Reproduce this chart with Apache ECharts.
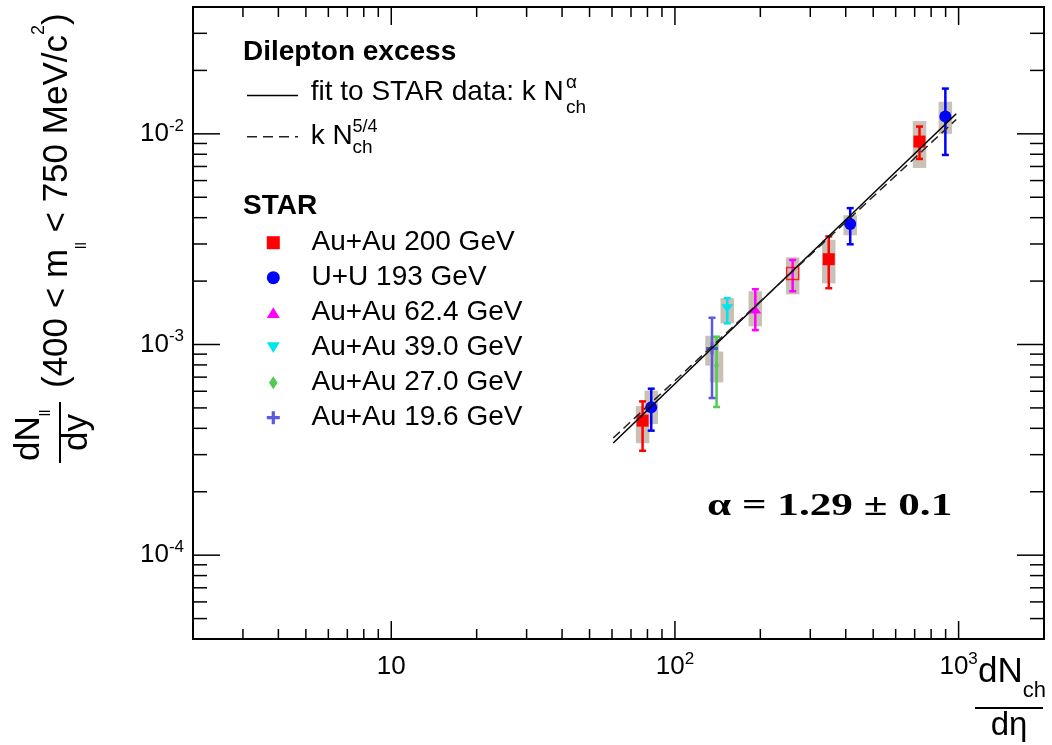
<!DOCTYPE html>
<html>
<head>
<meta charset="utf-8">
<script src="https://cdn.jsdelivr.net/npm/echarts@6/dist/echarts.min.js"></script>
<style>html,body{margin:0;padding:0;background:#fff}#c{width:1052px;height:745px}</style>
</head>
<body>
<div id="c"></div>
<script>
// ---------------- data ----------------
const xRange = [2, 2000];
const yRange = [4e-5, 0.04];
const xMajorTicks = [10, 100, 1000];
const xMinorTicks = [3, 4, 5, 6, 7, 8, 9, 20, 30, 40, 50, 60, 70, 80, 90, 200, 300, 400, 500, 600, 700, 800, 900];
const yMajorTicks = [1e-4, 1e-3, 1e-2];
const yMinorTicks = [5e-5, 6e-5, 7e-5, 8e-5, 9e-5, 2e-4, 3e-4, 4e-4, 5e-4, 6e-4, 7e-4, 8e-4, 9e-4,
  2e-3, 3e-3, 4e-3, 5e-3, 6e-3, 7e-3, 8e-3, 9e-3, 2e-2, 3e-2];
const xTickLabels = ['10', '10^2', '10^3'];
const yTickLabels = ['10^-4', '10^-3', '10^-2'];

const seriesNames = ['Au+Au 200 GeV', 'U+U 193 GeV', 'Au+Au 62.4 GeV', 'Au+Au 39.0 GeV', 'Au+Au 27.0 GeV', 'Au+Au 19.6 GeV'];

const auau200X = [76.9, 348.5, 728];
const auau200Y = [4.35e-4, 2.54e-3, 9.19e-3];
const auau200StatLo = [3.13e-4, 1.85e-3, 7.6e-3];
const auau200StatHi = [5.37e-4, 3.26e-3, 1.083e-2];
const auau200SysLo = [3.4e-4, 1.95e-3, 6.89e-3];
const auau200SysHi = [5.1e-4, 3.14e-3, 1.149e-2];

const uu193X = [82.5, 414.8, 898];
const uu193Y = [5.03e-4, 3.73e-3, 1.21e-2];
const uu193StatLo = [3.9e-4, 2.99e-3, 7.94e-3];
const uu193StatHi = [6.17e-4, 4.44e-3, 1.64e-2];
const uu193SysLo = [4.19e-4, 3.3e-3, 1.0e-2];
const uu193SysHi = [6.04e-4, 4.11e-3, 1.42e-2];

const auau62X = [192];
const auau62Y = [1.468e-3];
const auau62StatLo = [1.17e-3];
const auau62StatHi = [1.83e-3];
const auau62SysLo = [1.22e-3];
const auau62SysHi = [1.79e-3];

const openX = [260];
const openY = [2.17e-3];
const openStatLo = [1.79e-3];
const openStatHi = [2.52e-3];
const openSysLo = [1.73e-3];
const openSysHi = [2.59e-3];

const auau39X = [152.9];
const auau39Y = [1.485e-3];
const auau39StatLo = [1.26e-3];
const auau39StatHi = [1.66e-3];
const auau39SysLo = [1.26e-3];
const auau39SysHi = [1.66e-3];

const auau27X = [140.2];
const auau27Y = [7.94e-4];
const auau27StatLo = [5.05e-4];
const auau27StatHi = [1.088e-3];
const auau27SysLo = [6.61e-4];
const auau27SysHi = [9.26e-4];

const auau19X = [135.1];
const auau19Y = [9.57e-4];
const auau19StatLo = [5.57e-4];
const auau19StatHi = [1.34e-3];
const auau19SysLo = [7.94e-4];
const auau19SysHi = [1.10e-3];

const fitSolidX = [60.6, 981];
const fitSolidY = [3.41e-4, 1.245e-2];
const fitDashedX = [60.6, 981];
const fitDashedY = [3.6e-4, 1.17e-2];

// ---------------- styling / building ----------------
const FONT = "'Liberation Sans', Arial, Helvetica, sans-serif";
const SERIF = "'Liberation Serif', 'Times New Roman', serif";
const BOX = '#c9c0b6';

const systems = [
  {name: seriesNames[0], x: auau200X, y: auau200Y, lo: auau200StatLo, hi: auau200StatHi, sLo: auau200SysLo, sHi: auau200SysHi, color: '#ff0000', symbol: 'rect', size: 12},
  {name: seriesNames[1], x: uu193X, y: uu193Y, lo: uu193StatLo, hi: uu193StatHi, sLo: uu193SysLo, sHi: uu193SysHi, color: '#0000ff', symbol: 'circle', size: 12},
  {name: seriesNames[2], x: auau62X, y: auau62Y, lo: auau62StatLo, hi: auau62StatHi, sLo: auau62SysLo, sHi: auau62SysHi, color: '#ff00ff', symbol: 'path://M6,0L12,10L0,10Z', size: [12, 10]},
  {name: seriesNames[3], x: auau39X, y: auau39Y, lo: auau39StatLo, hi: auau39StatHi, sLo: auau39SysLo, sHi: auau39SysHi, color: '#00e5ee', symbol: 'path://M0,0L12,0L6,10Z', size: [12, 10]},
  {name: seriesNames[4], x: auau27X, y: auau27Y, lo: auau27StatLo, hi: auau27StatHi, sLo: auau27SysLo, sHi: auau27SysHi, color: '#55c855', symbol: 'path://M4,0L8,6L4,12L0,6Z', size: [7, 10]},
  {name: seriesNames[5], x: auau19X, y: auau19Y, lo: auau19StatLo, hi: auau19StatHi, sLo: auau19SysLo, sHi: auau19SysHi, color: '#5a5adc', symbol: 'path://M4.5,0H7.5V4.5H12V7.5H7.5V12H4.5V7.5H0V4.5H4.5Z', size: 12}
];
const openPoint = {x: openX, y: openY, lo: openStatLo, hi: openStatHi, sLo: openSysLo, sHi: openSysHi};

function boxRender(params, api) {
  const x = api.value(0);
  const top = api.coord([x, api.value(2)]);
  const bot = api.coord([x, api.value(1)]);
  const w = 13.5;
  return {type: 'rect', shape: {x: top[0] - w / 2, y: top[1], width: w, height: bot[1] - top[1]}, style: {fill: BOX}};
}
function errRender(color) {
  return function (params, api) {
    const x = api.value(0);
    const p1 = api.coord([x, api.value(3)]);
    const p2 = api.coord([x, api.value(2)]);
    const cw = 3.5;
    const st = {stroke: color, lineWidth: 2.5};
    return {type: 'group', children: [
      {type: 'line', shape: {x1: p1[0], y1: p1[1], x2: p2[0], y2: p2[1]}, style: st},
      {type: 'line', shape: {x1: p1[0] - cw, y1: p1[1], x2: p1[0] + cw, y2: p1[1]}, style: st},
      {type: 'line', shape: {x1: p2[0] - cw, y1: p2[1], x2: p2[0] + cw, y2: p2[1]}, style: st}
    ]};
  };
}
function xTickRender(params, api) {
  const cs = params.coordSys;
  const px = api.coord([api.value(0), yRange[0]])[0];
  const L = api.value(2) ? 18 : 10;
  const b = cs.y + cs.height, t = cs.y;
  const st = {stroke: '#000', lineWidth: 1.5};
  return {type: 'group', children: [
    {type: 'line', shape: {x1: px, y1: b, x2: px, y2: b - L}, style: st},
    {type: 'line', shape: {x1: px, y1: t, x2: px, y2: t + L}, style: st}
  ]};
}
function yTickRender(params, api) {
  const cs = params.coordSys;
  const py = api.coord([xRange[0], api.value(1)])[1];
  const L = api.value(2) ? 27 : 14;
  const l = cs.x, r = cs.x + cs.width;
  const st = {stroke: '#000', lineWidth: 1.5};
  return {type: 'group', children: [
    {type: 'line', shape: {x1: l, y1: py, x2: l + L, y2: py}, style: st},
    {type: 'line', shape: {x1: r, y1: py, x2: r - L, y2: py}, style: st}
  ]};
}
function makeFormatter(vals, labels) {
  return function (v) {
    for (let i = 0; i < vals.length; i++) {
      if (Math.abs(v / vals[i] - 1) < 1e-6) {
        const parts = labels[i].split('^');
        return parts.length > 1 ? '{b|' + parts[0] + '}{s|' + parts[1] + '}' : '{b|' + parts[0] + '}';
      }
    }
    return '';
  };
}
const labelRich = {
  b: {fontSize: 26, fontFamily: FONT, color: '#000', lineHeight: 30},
  s: {fontSize: 17, fontFamily: FONT, color: '#000', lineHeight: 30, padding: [0, 0, 16, 0]}
};

const series = [];
// systematic boxes
systems.concat([openPoint]).forEach(function (s, k) {
  series.push({type: 'custom', name: 'sys' + k, renderItem: boxRender, z: 2, silent: true,
    data: s.x.map(function (v, i) { return [v, s.sLo[i], s.sHi[i]]; })});
});
// statistical error bars
systems.forEach(function (s, k) {
  series.push({type: 'custom', name: 'stat' + k, renderItem: errRender(s.color), z: 3, silent: true,
    data: s.x.map(function (v, i) { return [v, s.y[i], s.lo[i], s.hi[i]]; })});
});
series.push({type: 'custom', name: 'statOpen', renderItem: errRender('#ff00ff'), z: 3, silent: true,
  data: openPoint.x.map(function (v, i) { return [v, openPoint.y[i], openPoint.lo[i], openPoint.hi[i]]; })});
// markers
systems.forEach(function (s) {
  series.push({type: 'scatter', name: s.name, symbol: s.symbol, symbolSize: s.size, symbolKeepAspect: true, z: 4, silent: true,
    itemStyle: {color: s.color, opacity: 1},
    data: s.x.map(function (v, i) { return [v, s.y[i]]; })});
});
series.push({type: 'scatter', name: 'open', symbol: 'rect', symbolSize: 12, z: 4, silent: true,
  itemStyle: {color: 'rgba(0,0,0,0)', borderColor: '#ff0000', borderWidth: 1.5},
  data: openPoint.x.map(function (v, i) { return [v, openPoint.y[i]]; })});
// fits
series.push({type: 'line', name: 'fit', z: 5, silent: true, showSymbol: false, symbol: 'none',
  lineStyle: {color: '#000', width: 1.5},
  data: fitSolidX.map(function (v, i) { return [v, fitSolidY[i]]; })});
series.push({type: 'line', name: 'k N^5/4', z: 5, silent: true, showSymbol: false, symbol: 'none',
  lineStyle: {color: '#222', width: 1.5, type: [9, 5]},
  data: fitDashedX.map(function (v, i) { return [v, fitDashedY[i]]; })});
// frame ticks
series.push({type: 'custom', name: 'xticks', renderItem: xTickRender, z: 6, silent: true,
  data: xMajorTicks.map(function (v) { return [v, yRange[0], 1]; }).concat(xMinorTicks.map(function (v) { return [v, yRange[0], 0]; }))});
series.push({type: 'custom', name: 'yticks', renderItem: yTickRender, z: 6, silent: true,
  data: yMajorTicks.map(function (v) { return [xRange[0], v, 1]; }).concat(yMinorTicks.map(function (v) { return [xRange[0], v, 0]; }))});

const txt = function (x, y, text, font, extra) {
  return {type: 'text', x: x, y: y, silent: true,
    style: Object.assign({text: text, font: font, fill: '#000', verticalAlign: 'middle'}, extra || {})};
};

const graphics = [
  // legend header
  txt(243, 52, 'Dilepton excess', 'bold 28px ' + FONT),
  {type: 'line', silent: true, shape: {x1: 247, y1: 95.5, x2: 298, y2: 95.5}, style: {stroke: '#000', lineWidth: 1.5}},
  txt(310.7, 92, 'fit to STAR data: k N', '28px ' + FONT),
  txt(566, 82.5, 'α', '19px ' + FONT),
  txt(566, 107.5, 'ch', '19px ' + FONT),
  {type: 'line', silent: true, shape: {x1: 247, y1: 136.7, x2: 298, y2: 136.7}, style: {stroke: '#222', lineWidth: 1.5, lineDash: [10, 6]}},
  txt(310.7, 136, 'k N', '28px ' + FONT),
  txt(352.5, 126.7, '5/4', '18px ' + FONT),
  txt(352.5, 147.4, 'ch', '19px ' + FONT),
  txt(243, 206, 'STAR', 'bold 28px ' + FONT),
  // alpha annotation
  {type: 'text', x: 707, y: 507, scaleX: 1.35, silent: true,
    style: {text: 'α = 1.29 ± 0.1', font: 'bold 32px ' + SERIF, fill: '#000', verticalAlign: 'middle'}},
  // x axis title
  txt(978, 672.7, 'dN{sub|ch}', '35px ' + FONT, {rich: {sub: {fontSize: 22, fontFamily: FONT, fill: '#000', padding: [37, 0, 0, 0]}}}),
  {type: 'line', silent: true, shape: {x1: 975, y1: 708, x2: 1043, y2: 708}, style: {stroke: '#000', lineWidth: 2}},
  txt(1009, 725.5, 'dη', '33px ' + FONT, {align: 'center'}),
  // y axis title (rotated)
  {type: 'group', x: 0, y: 470, rotation: Math.PI / 2, silent: true, children: [
    txt(9, 29.8, 'dN{sub|ll}', '35px ' + FONT, {rich: {sub: {fontSize: 15, fontFamily: FONT, fill: '#000', padding: [33, 0, 0, 0]}}}),
    {type: 'line', shape: {x1: 7, y1: 60, x2: 68, y2: 60}, style: {stroke: '#000', lineWidth: 2}},
    txt(37.5, 77.8, 'dy', '35px ' + FONT, {align: 'center'}),
    txt(82, 57.8, '(400 < m{sub|ll} < 750 MeV/c{sup|2})', '35px ' + FONT, {rich: {
      sub: {fontSize: 15, fontFamily: FONT, fill: '#000', padding: [48, 0, 0, 0]},
      sup: {fontSize: 18, fontFamily: FONT, fill: '#000', padding: [0, 0, 38, 0]}
    }})
  ]}
];

const chart = echarts.init(document.getElementById('c'), null, {renderer: 'canvas'});
chart.setOption({
  animation: false,
  backgroundColor: '#fff',
  grid: {left: 193, right: 8, top: 7, bottom: 106, containLabel: false, outerBoundsMode: 'none',
    show: true, borderColor: '#000', borderWidth: 2, backgroundColor: 'rgba(0,0,0,0)'},
  xAxis: {type: 'log', logBase: 10, min: xRange[0], max: xRange[1],
    axisLine: {show: false}, axisTick: {show: false}, splitLine: {show: false}, minorTick: {show: false},
    axisLabel: {margin: 13, formatter: makeFormatter(xMajorTicks, xTickLabels), rich: labelRich}},
  yAxis: {type: 'log', logBase: 10, min: yRange[0], max: yRange[1],
    axisLine: {show: false}, axisTick: {show: false}, splitLine: {show: false}, minorTick: {show: false},
    axisLabel: {margin: 9, formatter: makeFormatter(yMajorTicks, yTickLabels), rich: labelRich}},
  legend: {orient: 'vertical', left: 266.8, top: 225.7, padding: 0, itemWidth: 13, itemHeight: 13, itemGap: 1,
    selectedMode: false, symbolKeepAspect: true,
    textStyle: {fontSize: 28, fontFamily: FONT, color: '#000', lineHeight: 28, padding: [0, 0, 6, 26.7]},
    data: seriesNames},
  graphic: graphics,
  series: series
});
</script>
</body>
</html>
